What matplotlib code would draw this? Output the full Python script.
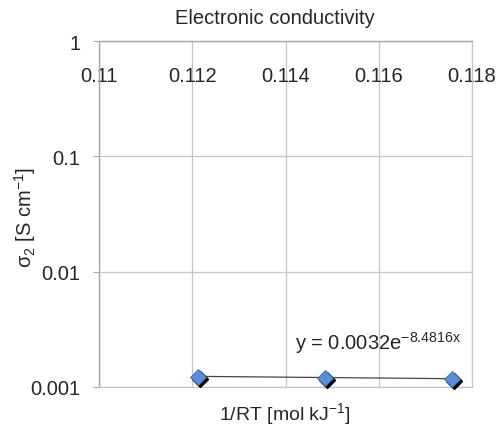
import numpy as np
import matplotlib
matplotlib.use("Agg")
import matplotlib.pyplot as plt
from matplotlib import transforms

plt.rcParams["font.family"] = ["Liberation Sans", "DejaVu Sans"]

# data
inv_rt = [0.11212, 0.11485, 0.11757]
sigma2 = [0.00123, 0.00120, 0.00118]

# exponential trendline shown on the chart
fit_a = 0.0032
fit_b = -8.4816

x_ticks = [0.11, 0.112, 0.114, 0.116, 0.118]
x_tick_labels = ["0.11", "0.112", "0.114", "0.116", "0.118"]
y_ticks = [0.001, 0.01, 0.1, 1]
y_tick_labels = ["0.001", "0.01", "0.1", "1"]

fs = 14.5
txt_col = "#262626"
grid_col = "#c6c6c6"
axis_col = "#a6a6a6"

fig = plt.figure(figsize=(5.03, 4.35), dpi=100)
ax = fig.add_axes([99 / 503, 1 - 388 / 435, 373 / 503, 346 / 435])

ax.set_yscale("log")
ax.set_xlim(0.11, 0.118)
ax.set_ylim(0.001, 1)

ax.set_xticks(x_ticks)
ax.set_xticklabels(x_tick_labels)
ax.set_yticks(y_ticks)
ax.set_yticklabels(y_tick_labels)
ax.yaxis.set_minor_locator(matplotlib.ticker.NullLocator())

ax.grid(True, color=grid_col, linewidth=0.9)
ax.set_axisbelow(True)

# x axis sits at the top (y = 1), labels drawn just under it
ax.xaxis.tick_top()
ax.tick_params(axis="x", length=0, labelsize=fs, pad=-32, labelcolor=txt_col,
               top=True, bottom=False, labeltop=True, labelbottom=False)
ax.tick_params(axis="y", length=4.5, color=axis_col, labelsize=fs, pad=9,
               labelcolor=txt_col)

for side in ["right", "bottom"]:
    ax.spines[side].set_color(grid_col)
    ax.spines[side].set_linewidth(0.9)
for side in ["left", "top"]:
    ax.spines[side].set_color(axis_col)
    ax.spines[side].set_linewidth(1.0)

# trendline
xs = np.linspace(min(inv_rt), max(inv_rt), 60)
ax.plot(xs, fit_a * np.exp(fit_b * xs), color="#444444", linewidth=0.9, zorder=3)

# markers with a small black shadow
shadow = transforms.offset_copy(ax.transData, fig=fig, x=2, y=-2, units="dots")
ax.plot(inv_rt, sigma2, linestyle="none", marker="D", markersize=8,
        color="black", transform=shadow, zorder=4, clip_on=False)
ax.plot(inv_rt, sigma2, linestyle="none", marker="D", markersize=8,
        markerfacecolor="#5a8ed8", markeredgecolor="#3a68a8",
        markeredgewidth=0.6, zorder=5, clip_on=False)

ax.text(0.1142, 0.00246, r"y = 0.0032e$^{\mathregular{-8.4816x}}$", fontsize=fs,
        color=txt_col, va="center", ha="left")

fig.text(275 / 503, 1 - 18 / 435, "Electronic conductivity", ha="center",
         va="center", fontsize=fs, color=txt_col)
fig.text(285 / 503, 1 - 415 / 435, r"1/RT [mol kJ$^{\mathregular{-1}}$]",
         ha="center", va="center", fontsize=14, color=txt_col)
fig.text(25 / 503, 1 - 217 / 435, r"σ$_{\mathregular{2}}$ [S cm$^{\mathregular{-1}}$]",
         ha="center", va="center", rotation=90, fontsize=fs, color=txt_col)

fig.savefig("out.png", dpi=100)
